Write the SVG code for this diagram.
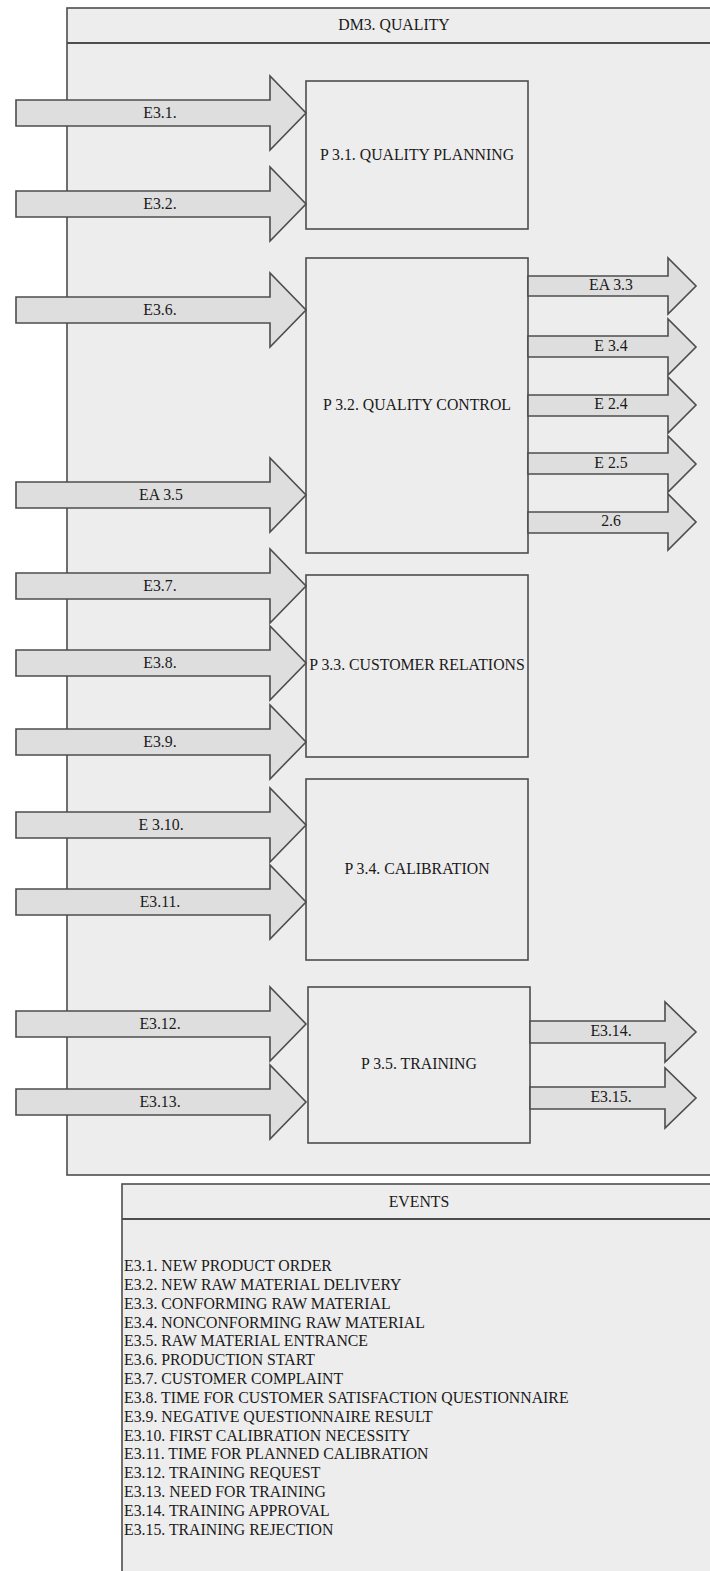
<svg xmlns="http://www.w3.org/2000/svg" width="710" height="1571" viewBox="0 0 710 1571">
  <style>
    .frame { fill: #ededed; stroke: #4d4d4d; stroke-width: 1.6; }
    .box { fill: #ededed; stroke: #4d4d4d; stroke-width: 1.6; }
    .arrow { fill: #dedede; stroke: #4d4d4d; stroke-width: 1.6; stroke-linejoin: miter; }
    .t { font-family: "Liberation Serif", "Times New Roman", serif; font-size: 15.8px; fill: #1a1a1a; }
    .c { text-anchor: middle; }
  </style>
  <rect x="0" y="0" width="710" height="1571" fill="#ffffff"/>

  <!-- Domain frame -->
  <g id="domain">
    <rect class="frame" x="67" y="8" width="660" height="1167"/>
    <line x1="67" y1="43" x2="727" y2="43" stroke="#4d4d4d" stroke-width="1.8"/>
    <text class="t c" x="394" y="30">DM3. QUALITY</text>
  </g>

  <!-- Processes -->
  <g id="p31">
    <rect class="box" x="306" y="81" width="222" height="148"/>
    <text class="t c" x="417" y="160">P 3.1. QUALITY PLANNING</text>
  </g>
  <g id="p32">
    <rect class="box" x="306" y="258" width="222" height="295"/>
    <text class="t c" x="417" y="410">P 3.2. QUALITY CONTROL</text>
  </g>
  <g id="p33">
    <rect class="box" x="306" y="575" width="222" height="182"/>
    <text class="t c" x="417" y="670">P 3.3. CUSTOMER RELATIONS</text>
  </g>
  <g id="p34">
    <rect class="box" x="306" y="779" width="222" height="181"/>
    <text class="t c" x="417" y="874">P 3.4. CALIBRATION</text>
  </g>
  <g id="p35">
    <rect class="box" x="308" y="987" width="222" height="156"/>
    <text class="t c" x="419" y="1069">P 3.5. TRAINING</text>
  </g>

  <!-- Event arrows: inputs on the left, outputs on the right -->
  <g id="connectors">
    <g id="in-e31">
      <polygon class="arrow" points="16,100 270,100 270,76 306,113 270,150 270,126 16,126"/>
      <text class="t c" x="160" y="118">E3.1.</text>
    </g>
    <g id="in-e32">
      <polygon class="arrow" points="16,191 270,191 270,167 306,204 270,241 270,217 16,217"/>
      <text class="t c" x="160" y="209">E3.2.</text>
    </g>
    <g id="in-e36">
      <polygon class="arrow" points="16,297 270,297 270,273 306,310 270,347 270,323 16,323"/>
      <text class="t c" x="160" y="315">E3.6.</text>
    </g>
    <g id="in-ea35">
      <polygon class="arrow" points="16,482 270,482 270,458 306,495 270,532 270,508 16,508"/>
      <text class="t c" x="161" y="500">EA 3.5</text>
    </g>
    <g id="in-e37">
      <polygon class="arrow" points="16,573 270,573 270,549 306,586 270,623 270,599 16,599"/>
      <text class="t c" x="160" y="591">E3.7.</text>
    </g>
    <g id="in-e38">
      <polygon class="arrow" points="16,650 270,650 270,626 306,663 270,700 270,676 16,676"/>
      <text class="t c" x="160" y="668">E3.8.</text>
    </g>
    <g id="in-e39">
      <polygon class="arrow" points="16,729 270,729 270,705 306,742 270,779 270,755 16,755"/>
      <text class="t c" x="160" y="747">E3.9.</text>
    </g>
    <g id="in-e310">
      <polygon class="arrow" points="16,812 270,812 270,788 306,825 270,862 270,838 16,838"/>
      <text class="t c" x="161" y="830">E 3.10.</text>
    </g>
    <g id="in-e311">
      <polygon class="arrow" points="16,889 270,889 270,865 306,902 270,939 270,915 16,915"/>
      <text class="t c" x="160" y="907">E3.11.</text>
    </g>
    <g id="in-e312">
      <polygon class="arrow" points="16,1011 270,1011 270,987 306,1024 270,1061 270,1037 16,1037"/>
      <text class="t c" x="160" y="1029">E3.12.</text>
    </g>
    <g id="in-e313">
      <polygon class="arrow" points="16,1089 270,1089 270,1065 306,1102 270,1139 270,1115 16,1115"/>
      <text class="t c" x="160" y="1107">E3.13.</text>
    </g>

    <g id="out-ea33">
      <polygon class="arrow" points="528,276 668,276 668,258 696,286 668,314 668,296 528,296"/>
      <text class="t c" x="611" y="290">EA 3.3</text>
    </g>
    <g id="out-e34">
      <polygon class="arrow" points="528,336 668,336 668,319 696,347 668,375 668,357 528,357"/>
      <text class="t c" x="611" y="351">E 3.4</text>
    </g>
    <g id="out-e24">
      <polygon class="arrow" points="528,395 668,395 668,377 696,405 668,433 668,416 528,416"/>
      <text class="t c" x="611" y="409">E 2.4</text>
    </g>
    <g id="out-e25">
      <polygon class="arrow" points="528,453 668,453 668,436 696,464 668,492 668,474 528,474"/>
      <text class="t c" x="611" y="468">E 2.5</text>
    </g>
    <g id="out-26">
      <polygon class="arrow" points="528,512 668,512 668,494 696,522 668,550 668,533 528,533"/>
      <text class="t c" x="611" y="526">2.6</text>
    </g>
    <g id="out-e314">
      <polygon class="arrow" points="530,1021 665,1021 665,1002 696,1032 665,1062 665,1043 530,1043"/>
      <text class="t c" x="611" y="1036">E3.14.</text>
    </g>
    <g id="out-e315">
      <polygon class="arrow" points="530,1087 665,1087 665,1068 696,1098 665,1128 665,1109 530,1109"/>
      <text class="t c" x="611" y="1102">E3.15.</text>
    </g>
  </g>

  <!-- Event legend -->
  <g id="events">
    <rect class="frame" x="122" y="1184" width="620" height="400"/>
    <line x1="122" y1="1219" x2="742" y2="1219" stroke="#4d4d4d" stroke-width="1.8"/>
    <text class="t c" x="419" y="1207">EVENTS</text>
    <text class="t" x="124" y="1271">
      <tspan x="124" dy="0">E3.1. NEW PRODUCT ORDER</tspan>
      <tspan x="124" dy="18.84">E3.2. NEW RAW MATERIAL DELIVERY</tspan>
      <tspan x="124" dy="18.84">E3.3. CONFORMING RAW MATERIAL</tspan>
      <tspan x="124" dy="18.84">E3.4. NONCONFORMING RAW MATERIAL</tspan>
      <tspan x="124" dy="18.84">E3.5. RAW MATERIAL ENTRANCE</tspan>
      <tspan x="124" dy="18.84">E3.6. PRODUCTION START</tspan>
      <tspan x="124" dy="18.84">E3.7. CUSTOMER COMPLAINT</tspan>
      <tspan x="124" dy="18.84">E3.8. TIME FOR CUSTOMER SATISFACTION QUESTIONNAIRE</tspan>
      <tspan x="124" dy="18.84">E3.9. NEGATIVE QUESTIONNAIRE RESULT</tspan>
      <tspan x="124" dy="18.84">E3.10. FIRST CALIBRATION NECESSITY</tspan>
      <tspan x="124" dy="18.84">E3.11. TIME FOR PLANNED CALIBRATION</tspan>
      <tspan x="124" dy="18.84">E3.12. TRAINING REQUEST</tspan>
      <tspan x="124" dy="18.84">E3.13. NEED FOR TRAINING</tspan>
      <tspan x="124" dy="18.84">E3.14. TRAINING APPROVAL</tspan>
      <tspan x="124" dy="18.84">E3.15. TRAINING REJECTION</tspan>
    </text>
  </g>
</svg>
